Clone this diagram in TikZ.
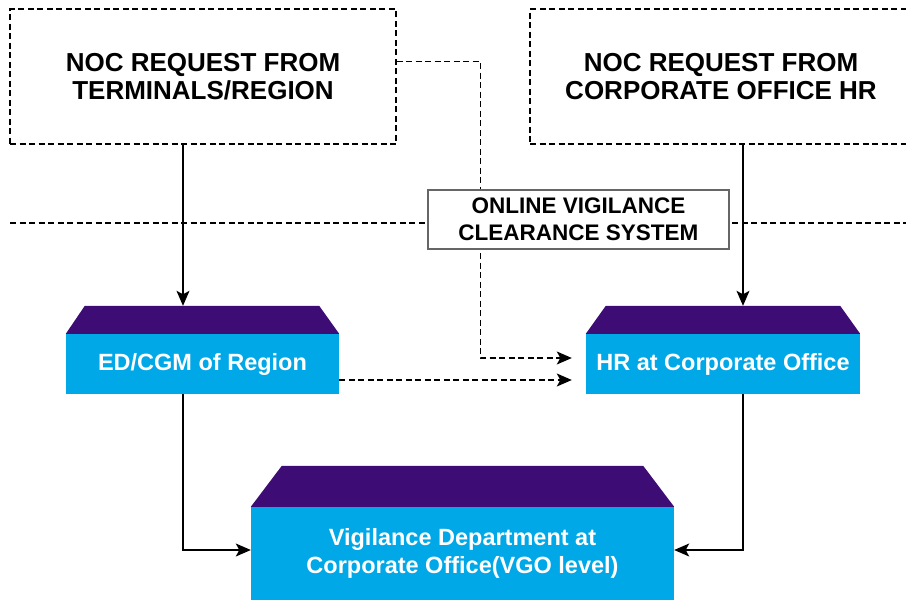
\documentclass[tikz,border=0pt]{standalone}
\usepackage{fontspec}
\setmainfont{Liberation Sans}
\usetikzlibrary{arrows.meta}
\definecolor{capviolet}{RGB}{61,12,117}
\definecolor{unitblue}{RGB}{0,168,232}
\begin{document}
\begin{tikzpicture}[x=1pt,y=-1pt,
    reqbox/.style={draw,line width=1.2pt,dash pattern=on 6pt off 3.5pt,minimum height=135pt,
      align=center,font=\fontsize{26}{28}\selectfont\bfseries},
    unit/.style={fill=unitblue,text=white,align=center,inner sep=0pt,
      font=\fontsize{23.5}{28}\selectfont\bfseries},
    link/.style={line width=1.2pt,-{Stealth[length=15pt,width=13pt,inset=3.5pt]}},
    dlink/.style={link,dash pattern=on 6pt off 3.5pt}]
  \useasboundingbox (0,0) rectangle (906,600);

  \node[reqbox,minimum width=386pt](req1) at (203,76.5){NOC REQUEST FROM\\TERMINALS/REGION};
  \node[reqbox,minimum width=382pt](req2) at (721,76.5){NOC REQUEST FROM\\CORPORATE OFFICE HR};

  \node[unit,minimum width=273pt,minimum height=60pt](ed) at (202.5,364){ED/CGM of Region};
  \node[unit,minimum width=274pt,minimum height=60pt](hr) at (723,364){HR at Corporate Office};
  \node[unit,minimum width=423pt,minimum height=93pt](vgo) at (462.5,553.5)
    {Vigilance Department at\\Corporate Office(VGO level)};

  % violet roofs
  \fill[capviolet] (ed.north west) -- ([xshift=19pt,yshift=28pt]ed.north west)
    -- ([xshift=-20pt,yshift=28pt]ed.north east) -- (ed.north east) -- cycle;
  \fill[capviolet] (hr.north west) -- ([xshift=20pt,yshift=28pt]hr.north west)
    -- ([xshift=-20pt,yshift=28pt]hr.north east) -- (hr.north east) -- cycle;
  \fill[capviolet] (vgo.north west) -- ([xshift=31pt,yshift=41pt]vgo.north west)
    -- ([xshift=-31pt,yshift=41pt]vgo.north east) -- (vgo.north east) -- cycle;
  \coordinate (edtop) at ([yshift=28pt]ed.north);
  \coordinate (hrtop) at ([yshift=28pt]hr.north);

  % requests down to the units
  \draw[link] ([xshift=-20pt]req1.south) -- ([xshift=-20pt]req1.south |- edtop);
  \draw[link] ([xshift=22pt]req2.south) -- ([xshift=22pt]req2.south |- hrtop);
  \draw[dlink] ([yshift=15pt]req1.east) -- ++(84,0) |- ([xshift=-14pt,yshift=6pt]hr.west);
  \draw[dlink] ([yshift=-16pt]ed.east) -- ([xshift=-14pt,yshift=-16pt]hr.west);
  \draw[link] ([xshift=-19.5pt]ed.south) |- ([yshift=3.5pt]vgo.west);
  \draw[link] ([xshift=20pt]hr.south) |- ([yshift=3.5pt]vgo.east);

  \coordinate (sepl) at (10,223);
  \coordinate (sepr) at (906,223);
  \draw[line width=1.2pt,dash pattern=on 6pt off 3.5pt] (sepl) -- (sepr);

  \node[draw=black!60,fill=white,line width=1.2pt,minimum width=301pt,minimum height=59pt,
    align=center,font=\fontsize{22.5}{26.5}\selectfont\bfseries](ovcs) at (578.5,219.5)
    {ONLINE VIGILANCE\\CLEARANCE SYSTEM};
\end{tikzpicture}
\end{document}
